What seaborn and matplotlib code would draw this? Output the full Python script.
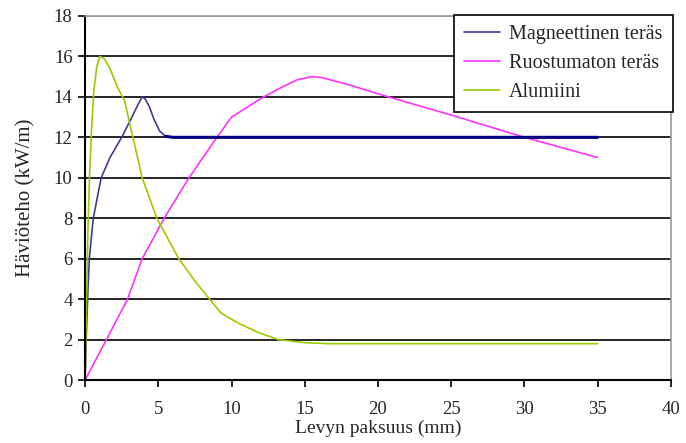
import seaborn as sns
import matplotlib.pyplot as plt
import pandas as pd

# values
mag_x = [0, 0.1, 0.2, 0.29, 0.56, 1.1, 1.7, 2.5, 3.2, 3.6, 3.9, 4.1, 4.4, 4.7, 5.1, 5.5, 6, 10, 15, 20, 25, 30, 35]
mag_y = [0, 2.5, 4.5, 6, 8, 10, 11, 12, 13, 13.6, 14, 13.9, 13.5, 12.9, 12.3, 12.05, 12, 12, 12, 12, 12, 12, 12]

rst_x = [0, 1.46, 2.9, 3.9, 5.4, 7.1, 9.0, 10, 11.1, 12.2, 13.5, 14.5, 15.5, 16.2, 18, 20.7, 25, 30, 35]
rst_y = [0, 2, 4, 6, 8, 10, 12, 13, 13.5, 14, 14.5, 14.85, 15, 14.95, 14.6, 14, 13.1, 12.0, 11.0]

alu_x = [0, 0.1, 0.2, 0.3, 0.45, 0.6, 0.8, 1.0, 1.3, 1.7, 2.2, 2.7, 3.3, 3.9, 4.9, 6.4, 7.5, 8.5, 9.3, 10.5,
         11.85, 13.2, 15, 16.6, 20, 25, 30, 35]
alu_y = [0, 4, 7.5, 10, 12.5, 14.3, 15.5, 16, 15.9, 15.4, 14.5, 13.8, 11.9, 10, 8, 6, 4.9, 4, 3.3, 2.8,
         2.35, 2.0, 1.85, 1.8, 1.8, 1.8, 1.8, 1.8]

labels = ["Magneettinen teräs", "Ruostumaton teräs", "Alumiini"]
colors = ["#3C3C96", "#FF33FF", "#99CC00"]

sns.set_style("white")
plt.rcParams['font.family'] = ['Liberation Serif', 'DejaVu Serif']

fig = plt.figure(figsize=(6.86, 4.43), dpi=100)
ax = fig.add_axes([0.124, 0.142, 0.854, 0.822])

for xs, ys, lab, col in zip([mag_x, rst_x, alu_x], [mag_y, rst_y, alu_y], labels, colors):
    df = pd.DataFrame({"x": xs, "y": ys})
    sns.lineplot(data=df, x="x", y="y", ax=ax, color=col, linewidth=1.2, label=lab,
                 sort=False, estimator=None)

# the flat part of the magnetic steel curve is drawn heavier and darker
mag_df = pd.DataFrame({"x": mag_x, "y": mag_y})
sns.lineplot(data=mag_df[mag_df.x >= 5.5], x="x", y="y", ax=ax, color="#000080",
             linewidth=2.2, sort=False, estimator=None, legend=False)

ax.set_xlim(0, 40)
ax.set_ylim(0, 18)
ax.set_xticks(range(0, 41, 5))
ax.set_yticks(range(0, 19, 2))
for yv in range(2, 18, 2):
    ax.axhline(yv, color="black", linewidth=1.2, zorder=0)
ax.axhline(18, color="#999999", linewidth=1.2, zorder=0)

for s in ["left", "bottom"]:
    ax.spines[s].set_color("black")
    ax.spines[s].set_linewidth(1.5)
for s in ["top", "right"]:
    ax.spines[s].set_color("#999999")
    ax.spines[s].set_linewidth(1.2)

ax.tick_params(axis="both", direction="out", length=5, width=1.2, color="black",
               labelsize=13.5, left=True, bottom=True)
ax.tick_params(axis="x", pad=10)
ax.tick_params(axis="y", pad=4)
ax.set_xlabel("Levyn paksuus (mm)", fontsize=14, labelpad=1)
ax.set_ylabel("Häviöteho (kW/m)", fontsize=15, labelpad=13)

leg = ax.legend(loc="upper right", bbox_to_anchor=(1.003, 1.003), fontsize=14.5, frameon=True,
                fancybox=False, edgecolor="black", framealpha=1, borderpad=0.5,
                handlelength=1.8, handletextpad=0.45, labelspacing=0.5, borderaxespad=0)
leg.get_frame().set_linewidth(1.2)

plt.savefig("out.png", dpi=100)
